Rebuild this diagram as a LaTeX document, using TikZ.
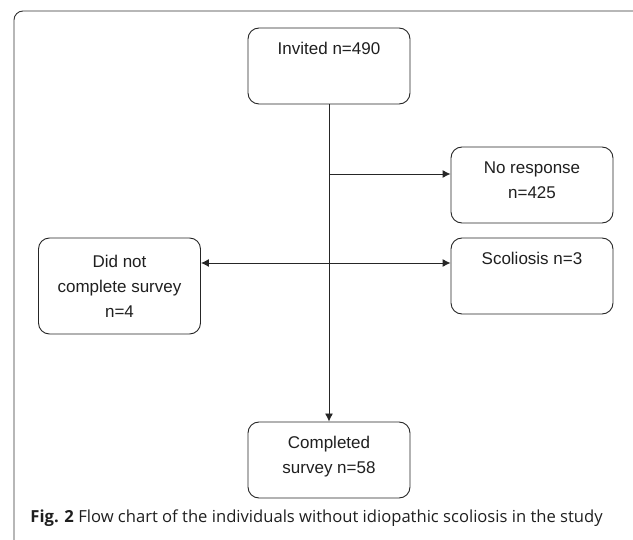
\documentclass[tikz,border=0pt]{standalone}
\usepackage{fontspec}
\setmainfont{Liberation Sans}
\newfontfamily\capfont{Open Sans}
\usetikzlibrary{positioning,arrows.meta}

\begin{document}
\begin{tikzpicture}[x=1pt,y=-1pt,line width=0.9pt,
  box/.style={draw=black!85,rounded corners=11pt,minimum width=162pt,minimum height=76pt},
  txt/.style={anchor=north,yshift=-11pt,align=center,text=black!88,
    font=\fontsize{17}{25}\selectfont},
  arr/.style={-{Latex[length=8pt,width=8pt]},black!85}]
  \useasboundingbox (0,0) rectangle (633,540);
  \clip (0,0) rectangle (633,540);
  % outer frame, cut at right and bottom
  \draw[black!80,rounded corners=9pt] (14,560) -- (14,11) -- (660,11);
  \node[box,label={[txt]north:Invited n=490}] (inv) at (329,66) {};
  \node[box,label={[txt]north:No response\\n=425}] (nores) at (532,185) {};
  \node[box,label={[txt]north:Scoliosis n=3}] (scol) at (532,276) {};
  \node[box,minimum height=96pt,label={[txt,yshift=-3pt]north:Did not\\complete survey\\n=4}] (dnc) at (119.5,286) {};
  \node[box,label={[txt]north:Completed\\survey n=58}] (comp) at (329,460) {};
  \coordinate (narr) at ([yshift=11pt]nores.west);
  \coordinate (sarr) at ([yshift=13pt]scol.west);
  \draw[arr] (inv.south) -- (comp.north);
  \draw[arr] (inv.south |- narr) -- (narr);
  \draw[black!85,{Latex[length=8pt,width=8pt]}-{Latex[length=8pt,width=8pt]}] (dnc.east |- sarr) -- (sarr);
  \node[anchor=base west,inner sep=0pt,text=black!88,
    font=\capfont\fontsize{16.6}{20}\selectfont] (cap) at (30,522)
    {\textbf{Fig. 2} Flow chart of the individuals without idiopathic scoliosis in the study};
\end{tikzpicture}
\end{document}
